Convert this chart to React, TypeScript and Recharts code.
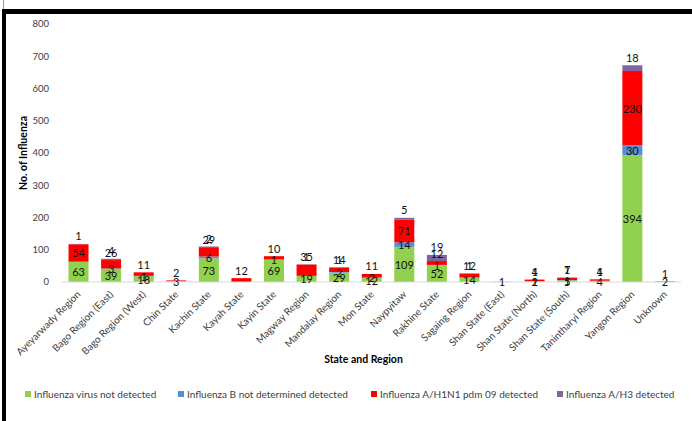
import { Bar, BarChart, LabelList, XAxis, YAxis, Label } from "recharts";

const categories = [
  "Ayeyarwady Region",
  "Bago Region (East)",
  "Bago Region (West)",
  "Chin State",
  "Kachin State",
  "Kayah State",
  "Kayin State",
  "Magway Region",
  "Mandalay Region",
  "Mon State",
  "Naypyitaw",
  "Rakhine State",
  "Sagaing Region",
  "Shan State (East)",
  "Shan State (North)",
  "Shan State (South)",
  "Tanintharyi Region",
  "Yangon Region",
  "Unknown",
];

const notDetected = [63, 39, 18, 3, 73, 0, 69, 19, 29, 12, 109, 52, 14, 1, 2, 5, 4, 394, 2];
const bNotDetermined = [0, 3, 1, 0, 6, 0, 1, 0, 2, 2, 14, 1, 0, 0, 1, 1, 0, 30, 0];
const h1n1 = [54, 26, 11, 2, 29, 12, 10, 35, 14, 11, 71, 12, 12, 0, 4, 7, 4, 230, 1];
const h3 = [1, 4, 0, 0, 2, 0, 0, 1, 1, 0, 5, 19, 1, 0, 1, 1, 1, 18, 0];

const yTicks = [0, 100, 200, 300, 400, 500, 600, 700, 800];

const series = [
  { key: "notDetected", name: "Influenza virus not detected", color: "#92D050", mode: "center" },
  { key: "bNotDetermined", name: "Influenza B not determined detected", color: "#558ED5", mode: "center" },
  { key: "h1n1", name: "Influenza A/H1N1 pdm 09 detected", color: "#FF0000", mode: "auto" },
  { key: "h3", name: "Influenza A/H3 detected", color: "#8064A2", mode: "above" },
];

const chartData = categories.map((name, i) => ({
  name,
  notDetected: notDetected[i],
  bNotDetermined: bNotDetermined[i],
  h1n1: h1n1[i],
  h3: h3[i],
}));

const legendLeft = [25, 178, 371, 557];

// green/blue labels sit in the middle, small red and all H3 labels sit above the segment
function makeLabel(mode: string) {
  return (props: any) => {
    const { value } = props;
    if (!value) return null;
    const vb = props.viewBox ?? props;
    const top = Math.min(vb.y, vb.y + vb.height);
    const h = Math.abs(vb.height);
    const cx = vb.x + vb.width / 2;
    let cy = top + h / 2;
    if (mode === "above" || (mode === "auto" && h < 12)) cy = top - 8;
    return (
      <text x={cx} y={cy} textAnchor="middle" dominantBaseline="central" fontSize={11} fill="#111">
        {value}
      </text>
    );
  };
}

function RotatedTick({ x, y, payload }: any) {
  return (
    <g transform={`translate(${x + 3},${y + 5})`}>
      <text x={0} y={0} textAnchor="end" transform="rotate(-45)" fontSize={10} fill="#404040">
        {payload.value}
      </text>
    </g>
  );
}

export default function App() {
  return (
    <div
      style={{
        position: "fixed",
        left: 0,
        top: 0,
        width: 692,
        height: 421,
        background: "#fff",
        fontFamily: "Lato, sans-serif",
        overflow: "hidden",
      }}
    >
      <div style={{ position: "absolute", left: 3, top: 0, width: 1, height: 10, background: "#9a9a9a" }} />
      <div style={{ position: "absolute", left: 2, top: 9, width: 690, height: 5, background: "#000" }} />
      <div style={{ position: "absolute", left: 2, top: 9, width: 4, height: 412, background: "#000" }} />

      <div style={{ position: "absolute", left: 0, top: 0 }}>
        <BarChart
          width={692}
          height={421}
          data={chartData}
          margin={{ top: 24, right: 11, left: 0, bottom: 0 }}
          barCategoryGap="20%"
        >
          <XAxis
            dataKey="name"
            interval={0}
            height={139}
            tickLine={false}
            axisLine={{ stroke: "#D9D9D9" }}
            tick={<RotatedTick />}
          >
            <Label
              content={({ viewBox }: any) => (
                <text
                  x={viewBox.x + viewBox.width / 2 - 8}
                  y={359}
                  textAnchor="middle"
                  dominantBaseline="central"
                  fontSize={10.5}
                  fontWeight="bold"
                  fill="#000"
                >
                  State and Region
                </text>
              )}
            />
          </XAxis>
          <YAxis
            width={62}
            domain={[0, 800]}
            ticks={yTicks}
            tickLine={false}
            axisLine={false}
            tickMargin={7}
            tick={{ fontSize: 9.5, fill: "#404040" }}
          >
            <Label
              content={() => (
                <text
                  x={23}
                  y={153}
                  transform="rotate(-90 23 153)"
                  textAnchor="middle"
                  dominantBaseline="central"
                  fontSize={10.5}
                  fontWeight="bold"
                  fill="#000"
                >
                  No. of Influenza
                </text>
              )}
            />
          </YAxis>
          {series.map((s) => (
            <Bar key={s.key} dataKey={s.key} name={s.name} stackId="a" fill={s.color} isAnimationActive={false}>
              <LabelList dataKey={s.key} content={makeLabel(s.mode)} />
            </Bar>
          ))}
        </BarChart>
      </div>

      {series.map((s, i) => (
        <div
          key={s.key}
          style={{
            position: "absolute",
            left: legendLeft[i],
            top: 386,
            height: 16,
            display: "flex",
            alignItems: "center",
            fontSize: 10,
            color: "#404040",
            whiteSpace: "nowrap",
          }}
        >
          <span style={{ width: 6, height: 6, background: s.color, marginRight: 3, display: "inline-block" }} />
          {s.name}
        </div>
      ))}
    </div>
  );
}
